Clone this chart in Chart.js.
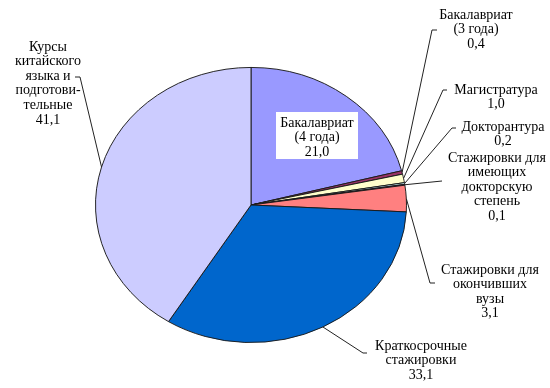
<!DOCTYPE html>
<html>
<head>
<meta charset="utf-8">
<script src="https://cdn.jsdelivr.net/npm/chart.js@4/dist/chart.umd.min.js"></script>
<style>
  body { margin: 0; background: #fff; }
  #wrap { width: 550px; height: 388px; }
</style>
</head>
<body>
<div id="wrap"><canvas id="pieChart" width="550" height="388"></canvas></div>
<script>
// Данные
const categories = [
    'Бакалавриат\n(4 года)',
    'Бакалавриат\n(3 года)',
    'Магистратура',
    'Докторантура',
    'Стажировки для\nимеющих\nдокторскую\nстепень',
    'Стажировки для\nокончивших\nвузы',
    'Краткосрочные\nстажировки',
    'Курсы\nкитайского\nязыка и\nподготови-\nтельные'
];
const values = [21.0, 0.4, 1.0, 0.2, 0.1, 3.1, 33.1, 41.1];
const colors = ['#9999FF', '#993366', '#FFFFCC', '#CCFFFF', '#660066', '#FF8080', '#0066CC', '#CCCCFF'];

// Положение подписей: центр текста, первая строка; излом выноски; длина "хвостика"
const labelLayout = [
    { tx: 317, ty: 123, box: [276, 112, 82, 47] },
    { tx: 476, ty: 15, ex: 432, ey: 30, tick: 5 },
    { tx: 496, ty: 90, ex: 443, ey: 90, tick: 4 },
    { tx: 503, ty: 127, ex: 452, ey: 128, tick: 4 },
    { tx: 497, ty: 158, ex: 442, ey: 181, tick: 0 },
    { tx: 490, ty: 270, ex: 430, ey: 283, tick: 5 },
    { tx: 421, ty: 346, ex: 363, ey: 353, tick: 4 },
    { tx: 48, ty: 47, ex: 80, ey: 77, tick: -5 }
];

const yScale = 138 / 156; // круг сжат по вертикали в эллипс
const lineH = 14.6;
const fontCss = '14px "Liberation Serif", "DejaVu Serif", serif';

function fmt(v) {
    return v.toFixed(1).replace('.', ',');
}

const ellipsePlugin = {
    id: 'ellipse',
    beforeDatasetsDraw(chart) {
        const arc = chart.getDatasetMeta(0).data[0];
        const ctx = chart.ctx;
        ctx.save();
        ctx.translate(arc.x, arc.y);
        ctx.scale(1, yScale);
        ctx.translate(-arc.x, -arc.y);
    },
    afterDatasetsDraw(chart) {
        chart.ctx.restore();
    }
};

const labelsPlugin = {
    id: 'outLabels',
    afterDraw(chart) {
        const ctx = chart.ctx;
        const arcs = chart.getDatasetMeta(0).data;
        ctx.save();
        ctx.font = fontCss;
        ctx.textAlign = 'center';
        ctx.textBaseline = 'middle';
        arcs.forEach(function(arc, i) {
            const lay = labelLayout[i];
            const lines = categories[i].split('\n').concat([fmt(values[i])]);
            if (lay.box) {
                ctx.fillStyle = '#fff';
                ctx.fillRect(lay.box[0], lay.box[1], lay.box[2], lay.box[3]);
            } else {
                const mid = (arc.startAngle + arc.endAngle) / 2;
                const sx = arc.x + Math.cos(mid) * arc.outerRadius;
                const sy = arc.y + Math.sin(mid) * arc.outerRadius * yScale;
                ctx.strokeStyle = '#222';
                ctx.lineWidth = 1;
                ctx.beginPath();
                ctx.moveTo(sx, sy);
                ctx.lineTo(lay.ex, lay.ey);
                if (lay.tick) ctx.lineTo(lay.ex + lay.tick, lay.ey);
                ctx.stroke();
            }
            ctx.fillStyle = '#000';
            lines.forEach(function(t, k) {
                ctx.fillText(t, lay.tx, lay.ty + k * lineH);
            });
        });
        ctx.restore();
    }
};

const ctx = document.getElementById('pieChart').getContext('2d');
const pieChart = new Chart(ctx, {
    type: 'pie',
    data: {
        labels: categories,
        datasets: [{
            data: values,
            backgroundColor: colors,
            borderColor: '#1a1a1a',
            borderWidth: 1
        }]
    },
    options: {
        responsive: false,
        animation: false,
        layout: {
            padding: { left: 95, right: 143, top: 49, bottom: 27 }
        },
        plugins: {
            legend: { display: false },
            tooltip: { enabled: false }
        }
    },
    plugins: [ellipsePlugin, labelsPlugin]
});
</script>
</body>
</html>
